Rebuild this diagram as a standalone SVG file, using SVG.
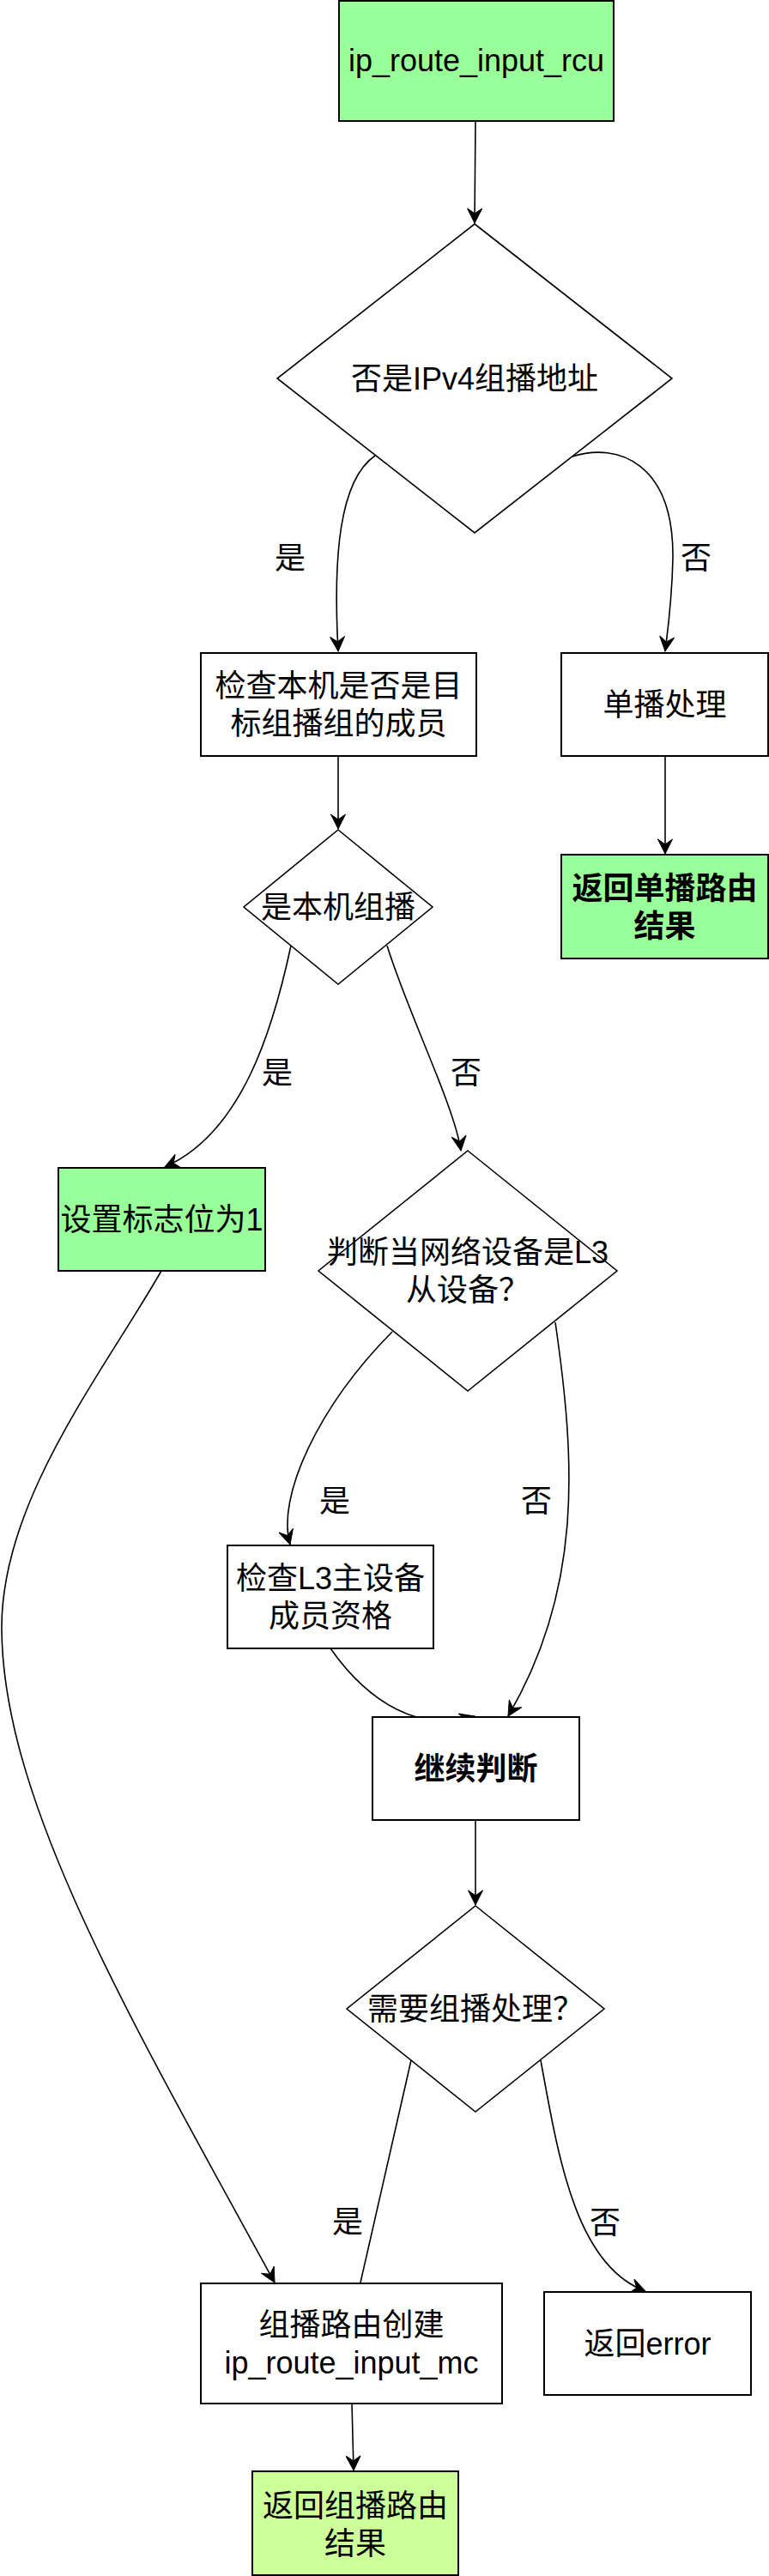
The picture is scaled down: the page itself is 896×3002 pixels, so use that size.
<svg xmlns="http://www.w3.org/2000/svg" width="896" height="3002" viewBox="0 0 896 3002">
<style>
.box{stroke:#000;stroke-width:2;fill:#fff}
.green{fill:#99FF99}
.lime{fill:#CCFF99}
.dia{stroke:#000;stroke-width:1.6;fill:#fff}
.edge{stroke:#000;stroke-width:1.6;fill:none}
.arr{marker-end:url(#ah)}
text{font-family:"Liberation Sans","Noto Sans CJK SC",sans-serif;font-size:36px;fill:#000;text-anchor:middle}
.b{font-weight:bold}
</style>
<defs>
<marker id="ah" markerUnits="userSpaceOnUse" viewBox="-18 -9 20 18" markerWidth="20" markerHeight="18" refX="0" refY="0" orient="auto">
<path d="M0,0 L-17,-8.5 L-11,0 L-17,8.5 Z" fill="#000" stroke="#000" stroke-width="1"/>
</marker>
</defs>
<rect width="896" height="3002" fill="#fff"/>
<g id="connectors">
<path class="edge arr" d="M554,141 L553,260"/>
<path class="edge arr" d="M437,531 C395,560 388,650 394,759"/>
<path class="edge arr" d="M667,532 C720,515 785,540 784,650 C783,700 778,735 775,759"/>
<path class="edge arr" d="M394,881 L394,966"/>
<path class="edge arr" d="M775,881 L775,995"/>
<path class="edge arr" d="M339,1102 C318,1200 282,1320 192,1360"/>
<path class="edge arr" d="M451,1102 C475,1180 530,1290 537,1341"/>
<path class="edge arr" d="M457,1552 C370,1640 322,1745 338,1800"/>
<path class="edge arr" d="M647,1541 C670,1700 680,1850 592,2000"/>
<path class="edge arr" d="M385,1921 C430,1985 490,2020 553,2000"/>
<path class="edge arr" d="M554,2121 L554,2220"/>
<path class="edge" d="M479,2401 L420,2660"/>
<path class="edge arr" d="M630,2401 C650,2510 670,2640 752,2670"/>
<path class="edge arr" d="M188,1481 C120,1600 0,1750 2,1900 C4,2100 150,2350 320,2660"/>
<path class="edge arr" d="M410,2801 L412,2879"/>
<text x="338" y="663">是</text>
<text x="811" y="663">否</text>
<text x="323" y="1263">是</text>
<text x="543" y="1263">否</text>
<text x="390" y="1762">是</text>
<text x="625" y="1762">否</text>
<text x="405" y="2602">是</text>
<text x="705" y="2603">否</text>
</g>
<g id="start">
<rect class="box green" x="395" y="1" width="320" height="140"/>
<text x="555" y="83">ip_route_input_rcu</text>
</g>
<g id="isMulticast">
<polygon class="dia" points="553,261 783,441 553,621 323,441"/>
<text x="553" y="454">否是IPv4组播地址</text>
</g>
<g id="checkMember">
<rect class="box" x="234" y="761" width="321" height="120"/>
<text x="394.5" y="812">检查本机是否是目</text>
<text x="394.5" y="856">标组播组的成员</text>
</g>
<g id="unicast">
<rect class="box" x="654" y="761" width="241" height="120"/>
<text x="774.5" y="834">单播处理</text>
</g>
<g id="returnUnicast">
<rect class="box green" x="654" y="996" width="241" height="121"/>
<text class="b" x="774.5" y="1048">返回单播路由</text>
<text class="b" x="774.5" y="1092">结果</text>
</g>
<g id="isLocal">
<polygon class="dia" points="394,967 504,1057 394,1147 284,1057"/>
<text x="394" y="1070">是本机组播</text>
</g>
<g id="setFlag">
<rect class="box green" x="68" y="1361" width="241" height="120"/>
<text x="188.5" y="1434">设置标志位为1</text>
</g>
<g id="isL3Slave">
<polygon class="dia" points="545,1341 719,1481 545,1621 371,1481"/>
<text x="545" y="1472">判断当网络设备是L3</text>
<text x="545" y="1516">从设备？</text>
</g>
<g id="checkL3Master">
<rect class="box" x="265" y="1801" width="240" height="120"/>
<text x="385" y="1852">检查L3主设备</text>
<text x="385" y="1896">成员资格</text>
</g>
<g id="continue">
<rect class="box" x="434" y="2001" width="241" height="120"/>
<text class="b" x="554.5" y="2074">继续判断</text>
</g>
<g id="needMulticast">
<polygon class="dia" points="554,2221 704,2341 554,2461 404,2341"/>
<text x="554" y="2354">需要组播处理？</text>
</g>
<g id="createMc">
<rect class="box" x="234" y="2661" width="351" height="140"/>
<text x="409.5" y="2722">组播路由创建</text>
<text x="409.5" y="2766">ip_route_input_mc</text>
</g>
<g id="returnError">
<rect class="box" x="634" y="2671" width="241" height="120"/>
<text x="754.5" y="2744">返回error</text>
</g>
<g id="returnMc">
<rect class="box lime" x="294" y="2880" width="240" height="121"/>
<text x="414" y="2933">返回组播路由</text>
<text x="414" y="2977">结果</text>
</g>
</svg>
